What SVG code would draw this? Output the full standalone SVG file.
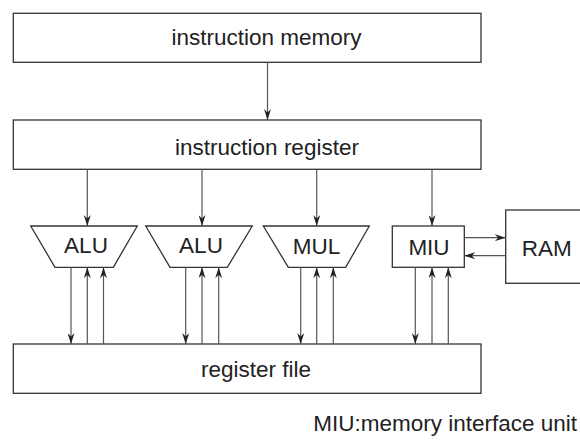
<svg xmlns="http://www.w3.org/2000/svg" width="580" height="444" viewBox="0 0 580 444">
<defs>
<style>
.box{fill:#fff;stroke:#333;stroke-width:1.3}
.lbl{font-family:"Liberation Sans",Arial,sans-serif;font-size:22.5px;fill:#222;text-anchor:middle}
.con line{stroke:#555;stroke-width:1.2;fill:none}
</style>
<marker id="ah" viewBox="0 0 11 7" refX="11" refY="3.5" markerWidth="11" markerHeight="7" orient="auto" markerUnits="userSpaceOnUse">
<path d="M0,0 L11,3.5 L0,7 L3.5,3.5 z" fill="#222"/>
</marker>
</defs>
<rect width="580" height="444" fill="#fff"/>
<g id="instruction-memory">
<rect class="box" x="13.3" y="13.3" width="467.7" height="49"/>
<text class="lbl" x="266.5" y="45">instruction memory</text>
</g>
<g id="instruction-register">
<rect class="box" x="13.3" y="120" width="467.7" height="49.3"/>
<text class="lbl" x="267" y="155">instruction register</text>
</g>
<g id="alu1">
<polygon class="box" points="30.7,226 137.3,226 113.3,267.3 55,267.3"/>
<text class="lbl" x="86" y="253">ALU</text>
</g>
<g id="alu2">
<polygon class="box" points="145.7,226 252.3,226 227.3,267.3 170,267.3"/>
<text class="lbl" x="201" y="253">ALU</text>
</g>
<g id="mul">
<polygon class="box" points="263.3,226 369.3,226 345.7,267.3 288.3,267.3"/>
<text class="lbl" x="316.5" y="254">MUL</text>
</g>
<g id="miu">
<rect class="box" x="392.3" y="226" width="72" height="41.3"/>
<text class="lbl" x="429" y="255">MIU</text>
</g>
<g id="ram">
<rect class="box" x="505.7" y="210" width="80" height="73.3"/>
<text class="lbl" x="546.7" y="256">RAM</text>
</g>
<g id="register-file">
<rect class="box" x="13.3" y="344" width="467.7" height="49.3"/>
<text class="lbl" x="256" y="377">register file</text>
</g>
<g id="connectors" class="con">
<line x1="267.5" y1="62.3" x2="267.5" y2="120" marker-end="url(#ah)"/>
<line x1="87.3" y1="169.3" x2="87.3" y2="226" marker-end="url(#ah)"/>
<line x1="202" y1="169.3" x2="202" y2="226" marker-end="url(#ah)"/>
<line x1="316.7" y1="169.3" x2="316.7" y2="226" marker-end="url(#ah)"/>
<line x1="432" y1="169.3" x2="432" y2="226" marker-end="url(#ah)"/>
<line x1="71" y1="267.3" x2="71" y2="344" marker-end="url(#ah)"/>
<line x1="87.3" y1="344" x2="87.3" y2="267.3" marker-end="url(#ah)"/>
<line x1="103.5" y1="344" x2="103.5" y2="267.3" marker-end="url(#ah)"/>
<line x1="185.7" y1="267.3" x2="185.7" y2="344" marker-end="url(#ah)"/>
<line x1="202" y1="344" x2="202" y2="267.3" marker-end="url(#ah)"/>
<line x1="218.7" y1="344" x2="218.7" y2="267.3" marker-end="url(#ah)"/>
<line x1="300.7" y1="267.3" x2="300.7" y2="344" marker-end="url(#ah)"/>
<line x1="316.7" y1="344" x2="316.7" y2="267.3" marker-end="url(#ah)"/>
<line x1="333.3" y1="344" x2="333.3" y2="267.3" marker-end="url(#ah)"/>
<line x1="415.3" y1="267.3" x2="415.3" y2="344" marker-end="url(#ah)"/>
<line x1="432" y1="344" x2="432" y2="267.3" marker-end="url(#ah)"/>
<line x1="448.3" y1="344" x2="448.3" y2="267.3" marker-end="url(#ah)"/>
<line x1="464.3" y1="237.7" x2="505.7" y2="237.7" marker-end="url(#ah)"/>
<line x1="505.7" y1="255.7" x2="464.3" y2="255.7" marker-end="url(#ah)"/>
</g>
<text class="lbl" x="577" y="431" style="text-anchor:end">MIU:memory interface unit</text>
</svg>
